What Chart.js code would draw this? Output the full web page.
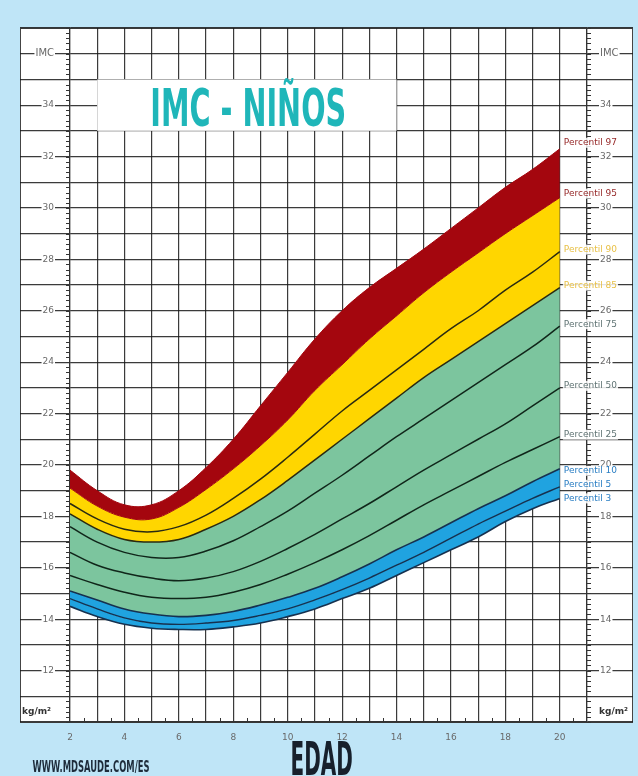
<!DOCTYPE html>
<html>
<head>
<meta charset="utf-8">
<script src="https://cdn.jsdelivr.net/npm/chart.js@4.4.0/dist/chart.umd.min.js"></script>
<style>
html, body { margin: 0; padding: 0; background: #bfe5f7; }
#wrap { width: 638px; height: 776px; position: relative; }
</style>
</head>
<body>
<div id="wrap"><canvas id="chart-imc"></canvas></div>
<script>
// edad (años)
const ages = [2, 3, 4, 5, 6, 7, 8, 9, 10, 11, 12, 13, 14, 15, 16, 17, 18, 19, 20];

// IMC por percentil (niños)
const p3  = [14.5, 14.1, 13.8, 13.65, 13.6, 13.6, 13.7, 13.85, 14.1, 14.4, 14.8, 15.2, 15.7, 16.2, 16.7, 17.2, 17.8, 18.3, 18.7];
const p5  = [14.8, 14.4, 14.05, 13.85, 13.8, 13.85, 13.95, 14.15, 14.4, 14.75, 15.15, 15.6, 16.1, 16.6, 17.15, 17.7, 18.2, 18.7, 19.15];
const p10 = [15.1, 14.75, 14.4, 14.2, 14.1, 14.15, 14.3, 14.55, 14.85, 15.2, 15.65, 16.15, 16.7, 17.2, 17.75, 18.3, 18.8, 19.35, 19.85];
const p25 = [15.7, 15.35, 15.05, 14.85, 14.8, 14.85, 15.05, 15.35, 15.75, 16.2, 16.7, 17.25, 17.85, 18.45, 19.0, 19.55, 20.1, 20.6, 21.1];
const p50 = [16.6, 16.1, 15.8, 15.6, 15.5, 15.6, 15.85, 16.25, 16.75, 17.3, 17.9, 18.5, 19.15, 19.8, 20.4, 21.0, 21.6, 22.3, 23.0];
const p75 = [17.6, 17.0, 16.6, 16.4, 16.4, 16.65, 17.05, 17.6, 18.2, 18.9, 19.6, 20.35, 21.1, 21.8, 22.5, 23.2, 23.9, 24.6, 25.4];
const p85 = [18.1, 17.5, 17.1, 17.0, 17.1, 17.5, 18.0, 18.65, 19.4, 20.2, 21.0, 21.8, 22.6, 23.4, 24.1, 24.8, 25.5, 26.2, 26.9];
const p90 = [18.5, 17.9, 17.5, 17.4, 17.6, 18.05, 18.7, 19.45, 20.3, 21.2, 22.1, 22.9, 23.7, 24.5, 25.3, 26.0, 26.8, 27.5, 28.3];
const p95 = [19.1, 18.4, 17.97, 17.9, 18.35, 19.05, 19.85, 20.75, 21.75, 22.9, 23.9, 24.9, 25.8, 26.7, 27.5, 28.25, 29.0, 29.7, 30.4];
const p97 = [19.8, 19.0, 18.45, 18.45, 19.0, 19.9, 21.0, 22.3, 23.6, 24.9, 26.0, 26.9, 27.65, 28.4, 29.2, 30.0, 30.8, 31.5, 32.3];

const percentilNames = ['Percentil 3', 'Percentil 5', 'Percentil 10', 'Percentil 25', 'Percentil 50',
                        'Percentil 75', 'Percentil 85', 'Percentil 90', 'Percentil 95', 'Percentil 97'];
const xTickLabels = [2, 4, 6, 8, 10, 12, 14, 16, 18, 20];
const yTickLabels = [12, 14, 16, 18, 20, 22, 24, 26, 28, 30, 32, 34];

const BLUE = 'rgb(32,163,224)';
const GREEN = 'rgb(124,197,158)';
const YELLOW = 'rgb(255,214,0)';
const RED = 'rgb(164,6,14)';

function pts(vals) {
    return ages.map((a, i) => ({ x: a, y: vals[i] }));
}

function curve(label, vals, fill, bg, border, width) {
    return {
        label: label,
        data: pts(vals),
        fill: fill,
        backgroundColor: bg,
        borderColor: border,
        borderWidth: width,
        pointRadius: 0,
        tension: 0.4
    };
}

function yLabel(v) {
    if (v === 36) return 'IMC';
    if (yTickLabels.includes(v)) return String(v);
    return '';
}

const datasets = [
    curve(percentilNames[0], p3, false, BLUE, '#16314f', 1.6),
    curve(percentilNames[1], p5, '-1', BLUE, '#16314f', 1.4),
    curve(percentilNames[2], p10, '-1', BLUE, '#16314f', 1.6),
    curve(percentilNames[3], p25, '-1', GREEN, '#10261a', 1.5),
    curve(percentilNames[4], p50, '-1', GREEN, '#10261a', 1.5),
    curve(percentilNames[5], p75, '-1', GREEN, '#10261a', 1.5),
    curve(percentilNames[6], p85, '-1', GREEN, '#2a2a10', 1.5),
    curve(percentilNames[7], p90, '-1', YELLOW, '#2a2a10', 1.5),
    curve(percentilNames[8], p95, '-1', YELLOW, RED, 1),
    curve(percentilNames[9], p97, '-1', RED, RED, 1)
];

const labelColors = ['rgb(40,125,195)', 'rgb(40,125,195)', 'rgb(40,125,195)',
    'rgb(95,115,115)', 'rgb(95,115,115)', 'rgb(95,115,115)',
    'rgb(232,192,70)', 'rgb(232,192,70)', 'rgb(150,40,40)', 'rgb(150,40,40)'];

const GRID = 'rgba(25,25,25,0.85)';

const decor = {
    id: 'decor',
    beforeDraw(chart) {
        const { ctx, chartArea: a } = chart;
        const left = chart.scales.y.left;
        const right = chart.scales.y2.right;
        ctx.save();
        ctx.fillStyle = '#bfe5f7';
        ctx.fillRect(0, 0, chart.width, chart.height);
        ctx.fillStyle = '#ffffff';
        ctx.fillRect(left, a.top, right - left, a.bottom - a.top);
        ctx.strokeStyle = '#444';
        ctx.lineWidth = 1;
        ctx.strokeRect(left + 0.5, a.top + 0.5, right - left - 1, a.bottom - a.top);
        ctx.restore();
    },
    afterDraw(chart) {
        const { ctx, chartArea: a } = chart;
        const x = chart.scales.x, y = chart.scales.y;
        ctx.save();

        // rulers
        ctx.strokeStyle = '#333';
        ctx.lineWidth = 1;
        ctx.beginPath();
        for (let v = 10; v <= 37.001; v += 0.2) {
            const py = Math.round(y.getPixelForValue(v)) + 0.5;
            ctx.moveTo(a.left, py); ctx.lineTo(a.left - 4, py);
            ctx.moveTo(a.right, py); ctx.lineTo(a.right + 4, py);
        }
        for (let t = 2.5; t < 21; t += 1) {
            const px = Math.round(x.getPixelForValue(t)) + 0.5;
            ctx.moveTo(px, a.bottom); ctx.lineTo(px, a.bottom - 4);
        }
        ctx.stroke();

        // kg/m2
        ctx.fillStyle = '#333';
        ctx.font = 'bold 9px "DejaVu Sans"';
        ctx.textBaseline = 'middle';
        const ky = y.getPixelForValue(10.4);
        ctx.textAlign = 'left';
        ctx.fillText('kg/m²', y.left + 2, ky);
        ctx.fillText('kg/m²', a.right + 12, ky);

        // title box
        const bx0 = x.getPixelForValue(3), bx1 = x.getPixelForValue(14);
        const by0 = y.getPixelForValue(35), by1 = y.getPixelForValue(33);
        ctx.fillStyle = '#ffffff';
        ctx.fillRect(bx0, by0, bx1 - bx0, by1 - by0);
        drawSqueezed(ctx, 'IMC - NIÑOS', 'bold 51px "DejaVu Sans Condensed", "Liberation Sans Narrow", sans-serif',
            '#1fb6b9', x.getPixelForValue(8.55), y.getPixelForValue(33.2), x.getPixelForValue(12.15) - x.getPixelForValue(4.95));

        // percentile labels
        ctx.font = '9px "DejaVu Sans"';
        ctx.textAlign = 'left';
        ctx.textBaseline = 'middle';
        const lx = x.getPixelForValue(20.15);
        const shifts = [0, -1, 1, -1, -1, -1, -1, -1, -2, -3];
        chart.data.datasets.forEach((ds, i) => {
            const last = ds.data[ds.data.length - 1].y;
            const ly = y.getPixelForValue(last) + shifts[i] * 2;
            const w = ctx.measureText(ds.label).width;
            ctx.fillStyle = 'rgba(255,255,255,0.85)';
            ctx.fillRect(lx - 1, ly - 5, w + 2, 10);
            ctx.fillStyle = labelColors[i];
            ctx.fillText(ds.label, lx, ly);
        });

        // footer
        drawSqueezed(ctx, 'EDAD', 'bold 46px "DejaVu Sans Condensed", "Liberation Sans Narrow", sans-serif',
            '#17202c', x.getPixelForValue(11.25), chart.height - 1, x.getPixelForValue(12.39) - x.getPixelForValue(10.1));
        drawSqueezed(ctx, 'WWW.MDSAUDE.COM/ES', 'bold 16px "DejaVu Sans Condensed", "Liberation Sans Narrow", sans-serif',
            '#1d2b3a', 91, chart.height - 4, 117);
        ctx.restore();
    }
};

function drawSqueezed(ctx, text, font, color, cx, baseY, targetW) {
    ctx.save();
    ctx.font = font;
    ctx.fillStyle = color;
    ctx.textAlign = 'center';
    ctx.textBaseline = 'alphabetic';
    const w = ctx.measureText(text).width;
    ctx.translate(cx, baseY);
    ctx.scale(targetW / w, 1);
    ctx.fillText(text, 0, 0);
    ctx.restore();
}

const yAxisBase = {
    type: 'linear',
    min: 10,
    max: 37,
    z: 1,
    border: { color: '#333', width: 1.2 },
    grid: { color: GRID, lineWidth: 1.2 },
    ticks: {
        stepSize: 1,
        autoSkip: false,
        color: 'rgb(105,105,105)',
        font: (c) => ({ family: 'DejaVu Sans', size: c.tick && c.tick.value === 36 ? 10 : 9 }),
        callback: (v) => yLabel(v),
        showLabelBackdrop: (c) => !!(c.tick && yLabel(c.tick.value)),
        backdropColor: '#ffffff',
        backdropPadding: 1
    }
};

new Chart(document.getElementById('chart-imc'), {
    type: 'line',
    data: { datasets: datasets },
    plugins: [decor],
    options: {
        responsive: true,
        maintainAspectRatio: false,
        animation: false,
        layout: { padding: { left: 20, right: 5, top: 28, bottom: 0 } },
        plugins: {
            legend: { display: false },
            tooltip: { enabled: false },
            title: { display: false }
        },
        scales: {
            x: {
                type: 'linear',
                min: 2,
                max: 21,
                z: 1,
                border: { color: '#333', width: 1.2 },
                grid: { color: GRID, lineWidth: 1.2, drawTicks: false },
                ticks: {
                    stepSize: 1,
                    autoSkip: false,
                    maxRotation: 0,
                    padding: 10,
                    color: 'rgb(105,105,105)',
                    font: { family: 'DejaVu Sans', size: 9 },
                    callback: (v) => xTickLabels.includes(v) ? String(v) : ''
                },
                afterFit: (s) => { s.height = 54; }
            },
            y: Object.assign({}, yAxisBase, {
                position: 'left',
                grid: { color: GRID, lineWidth: 1.2, tickLength: 50 },
                ticks: Object.assign({}, yAxisBase.ticks, { padding: -34 }),
                afterFit: (s) => { s.width = 50; }
            }),
            y2: Object.assign({}, yAxisBase, {
                position: 'right',
                grid: { color: GRID, lineWidth: 1.2, tickLength: 46, drawOnChartArea: false },
                ticks: Object.assign({}, yAxisBase.ticks, { padding: -33 }),
                afterFit: (s) => { s.width = 46; }
            })
        }
    }
});
</script>
</body>
</html>
